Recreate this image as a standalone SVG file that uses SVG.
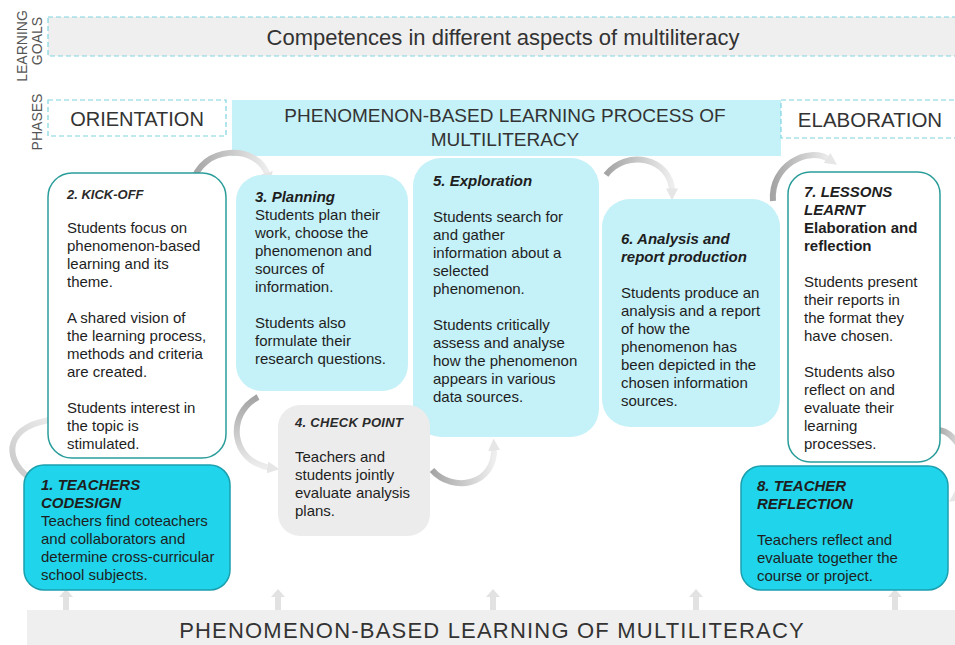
<svg xmlns="http://www.w3.org/2000/svg" width="955" height="645" viewBox="0 0 955 645">
<style>
text{font-family:"Liberation Sans",Arial,sans-serif;fill:#1e1e1e}
.b{font-size:15px}
.t{font-size:15px;font-weight:bold;font-style:italic}
.ti{font-size:13px;font-style:italic;font-weight:bold;fill:#2a2a2a}
.bb{font-size:15px;font-weight:bold}
.hd{fill:#333}
.side{font-size:14px;fill:#555}
.dash{fill:#fff;stroke:#7fd6e0;stroke-width:1.2;stroke-dasharray:5 3}
.lc{fill:#c5f1f8}
.arc{fill:none;stroke-width:6}
.up{fill:#e2e2e2}
</style>
<defs>
<linearGradient id="gH" x1="0" y1="0" x2="1" y2="0"><stop offset="0" stop-color="#a4a4a4"/><stop offset="1" stop-color="#eeeeee"/></linearGradient>
<linearGradient id="gV" x1="0" y1="0" x2="0" y2="1"><stop offset="0" stop-color="#a4a4a4"/><stop offset="1" stop-color="#eeeeee"/></linearGradient>
<linearGradient id="gL" x1="0" y1="1" x2="1" y2="0"><stop offset="0" stop-color="#c8c8c8"/><stop offset="1" stop-color="#eeeeee"/></linearGradient>
<marker id="ah" viewBox="0 0 10 10" refX="3" refY="5" markerWidth="12" markerHeight="12" markerUnits="userSpaceOnUse" orient="auto">
<path d="M0,0 L10,5 L0,10 z" fill="#e6e6e6"/>
</marker>
</defs>

<g id="learning-goals">
<rect class="dash" x="48" y="17" width="920" height="39" style="fill:#efefef"/>
<text class="hd" x="503" y="45" font-size="22" text-anchor="middle">Competences in different aspects of multiliteracy</text>
</g>
<g id="side-labels">
<text class="side" transform="translate(27,46) rotate(-90)" text-anchor="middle">LEARNING</text>
<text class="side" transform="translate(42,41) rotate(-90)" text-anchor="middle">GOALS</text>
<text class="side" transform="translate(42,122) rotate(-90)" text-anchor="middle">PHASES</text>
</g>
<g id="phase-orientation">
<rect class="dash" x="48" y="100" width="178" height="36"/>
<text class="hd" x="137" y="126" font-size="20" text-anchor="middle">ORIENTATION</text>
</g>
<g id="phase-process">
<rect class="lc" x="232" y="100" width="549" height="56"/>
<text class="hd" x="505" y="122" font-size="19" text-anchor="middle">PHENOMENON-BASED LEARNING PROCESS OF</text>
<text class="hd" x="505" y="146" font-size="19" text-anchor="middle">MULTILITERACY</text>
</g>
<g id="phase-elaboration">
<rect class="dash" x="781" y="100" width="190" height="38"/>
<text class="hd" x="870" y="127" font-size="20.5" text-anchor="middle">ELABORATION</text>
</g>

<g id="connectors">
<g class="up">
<path d="M63,610 V597 H59 L66,589 L73,597 H69 V610 z"/>
<path d="M275,610 V597 H271 L278,589 L285,597 H281 V610 z"/>
<path d="M490,610 V597 H486 L493,589 L500,597 H496 V610 z"/>
<path d="M693,610 V597 H689 L696,589 L703,597 H699 V610 z"/>
<path d="M892,610 V597 H888 L895,589 L902,597 H898 V610 z"/>
</g>
<path class="arc" stroke="url(#gL)" d="M27,476 C4,458 4,424 57,419" marker-end="url(#ah)"/>
<path class="arc" stroke="url(#gH)" d="M193,183 C200,146 258,142 268,176" marker-end="url(#ah)"/>
<path class="arc" stroke="url(#gV)" d="M258,397 C226,414 230,462 271,468" marker-end="url(#ah)"/>
<path class="arc" stroke="url(#gH)" d="M432,470 C452,493 496,486 494,447" marker-end="url(#ah)"/>
<path class="arc" stroke="url(#gH)" d="M606,175 C626,148 672,158 672,192" marker-end="url(#ah)"/>
<path class="arc" stroke="url(#gH)" d="M773,201 C770,166 808,145 830,160" marker-end="url(#ah)"/>
<path class="arc" stroke="url(#gH)" d="M937,430 C962,430 978,482 956,497" marker-end="url(#ah)"/>
</g>

<g id="node-2">
<rect x="48" y="173" width="178" height="285" rx="24" fill="#fff" stroke="#2a9d9a" stroke-width="1.5"/>
<text class="ti" x="67" y="199">2. KICK-OFF</text>
<text class="b" x="67" y="233">Students focus on</text>
<text class="b" x="67" y="251">phenomenon-based</text>
<text class="b" x="67" y="269">learning and its</text>
<text class="b" x="67" y="287">theme.</text>
<text class="b" x="67" y="323">A shared vision of</text>
<text class="b" x="67" y="341">the learning process,</text>
<text class="b" x="67" y="359">methods and criteria</text>
<text class="b" x="67" y="377">are created.</text>
<text class="b" x="67" y="413">Students interest in</text>
<text class="b" x="67" y="431">the topic is</text>
<text class="b" x="67" y="449">stimulated.</text>
</g>
<g id="node-3">
<rect class="lc" x="236" y="175" width="172" height="216" rx="26"/>
<text class="t" x="255" y="202">3. Planning</text>
<text class="b" x="255" y="220">Students plan their</text>
<text class="b" x="255" y="238">work, choose the</text>
<text class="b" x="255" y="256">phenomenon and</text>
<text class="b" x="255" y="274">sources of</text>
<text class="b" x="255" y="292">information.</text>
<text class="b" x="255" y="328">Students also</text>
<text class="b" x="255" y="346">formulate their</text>
<text class="b" x="255" y="364">research questions.</text>
</g>
<g id="node-5">
<rect class="lc" x="413" y="158" width="186" height="279" rx="28"/>
<text class="t" x="433" y="186">5. Exploration</text>
<text class="b" x="433" y="222">Students search for</text>
<text class="b" x="433" y="240">and gather</text>
<text class="b" x="433" y="258">information about a</text>
<text class="b" x="433" y="276">selected</text>
<text class="b" x="433" y="294">phenomenon.</text>
<text class="b" x="433" y="330">Students critically</text>
<text class="b" x="433" y="348">assess and analyse</text>
<text class="b" x="433" y="366">how the phenomenon</text>
<text class="b" x="433" y="384">appears in various</text>
<text class="b" x="433" y="402">data sources.</text>
</g>
<g id="node-6">
<rect class="lc" x="602" y="199" width="178" height="228" rx="28"/>
<text class="t" x="621" y="244">6. Analysis and</text>
<text class="t" x="621" y="262">report production</text>
<text class="b" x="621" y="298">Students produce an</text>
<text class="b" x="621" y="316">analysis and a report</text>
<text class="b" x="621" y="334">of how the</text>
<text class="b" x="621" y="352">phenomenon has</text>
<text class="b" x="621" y="370">been depicted in the</text>
<text class="b" x="621" y="388">chosen information</text>
<text class="b" x="621" y="406">sources.</text>
</g>
<g id="node-7">
<rect x="788" y="172" width="152" height="290" rx="22" fill="#fff" stroke="#2a9d9a" stroke-width="1.5"/>
<text class="t" x="804" y="197">7. LESSONS</text>
<text class="t" x="804" y="215">LEARNT</text>
<text class="bb" x="804" y="233">Elaboration and</text>
<text class="bb" x="804" y="251">reflection</text>
<text class="b" x="804" y="287">Students present</text>
<text class="b" x="804" y="305">their reports in</text>
<text class="b" x="804" y="323">the format they</text>
<text class="b" x="804" y="341">have chosen.</text>
<text class="b" x="804" y="377">Students also</text>
<text class="b" x="804" y="395">reflect on and</text>
<text class="b" x="804" y="413">evaluate their</text>
<text class="b" x="804" y="431">learning</text>
<text class="b" x="804" y="449">processes.</text>
</g>
<g id="node-4">
<rect x="278" y="405" width="152" height="131" rx="22" fill="#ececec"/>
<text class="ti" x="295" y="427" letter-spacing="0.3">4. CHECK POINT</text>
<text class="b" x="295" y="462">Teachers and</text>
<text class="b" x="295" y="480">students jointly</text>
<text class="b" x="295" y="498">evaluate analysis</text>
<text class="b" x="295" y="516">plans.</text>
</g>
<g id="node-1">
<rect x="24" y="465" width="206" height="125" rx="20" fill="#1fd4eb" stroke="#1b9fae" stroke-width="1.5"/>
<text class="t" x="41" y="490">1. TEACHERS</text>
<text class="t" x="41" y="508">CODESIGN</text>
<text class="b" x="41" y="526">Teachers find coteachers</text>
<text class="b" x="41" y="544">and collaborators and</text>
<text class="b" x="41" y="562">determine cross-curricular</text>
<text class="b" x="41" y="580">school subjects.</text>
</g>
<g id="node-8">
<rect x="741" y="466" width="207" height="124" rx="20" fill="#1fd4eb" stroke="#1b9fae" stroke-width="1.5"/>
<text class="t" x="757" y="491">8. TEACHER</text>
<text class="t" x="757" y="509">REFLECTION</text>
<text class="b" x="757" y="545">Teachers reflect and</text>
<text class="b" x="757" y="563">evaluate together the</text>
<text class="b" x="757" y="581">course or project.</text>
</g>

<g id="base-bar">
<rect x="27" y="610" width="940" height="40" fill="#efefef"/>
<text class="hd" x="492" y="638" font-size="22" letter-spacing="1.2" text-anchor="middle">PHENOMENON-BASED LEARNING OF MULTILITERACY</text>
</g>
</svg>
